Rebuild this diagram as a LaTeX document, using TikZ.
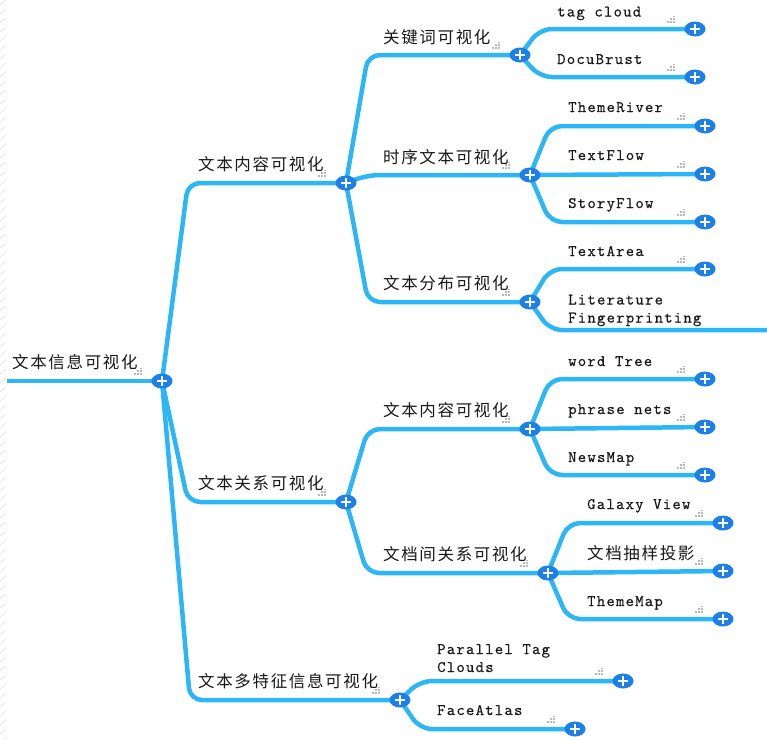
\documentclass[tikz,border=0pt]{standalone}
\usepackage{fontspec}
\newfontfamily\cjk{Noto Sans CJK SC}[LetterSpace=10]
\newfontfamily\mono{lmmono10-regular.otf}[LetterSpace=7.5,FakeBold=0.4]
\usetikzlibrary{shapes.geometric,backgrounds,calc}
\definecolor{linkblue}{RGB}{45,182,245}
\definecolor{plusblue}{RGB}{28,128,232}
\definecolor{gripgray}{RGB}{185,185,185}
\definecolor{hatchgray}{RGB}{225,225,225}
\tikzset{
  link/.style={draw=linkblue, line width=4.5pt, rounded corners=12pt, line join=round},
  plusnode/.style={ellipse, fill=plusblue, minimum width=21pt, minimum height=15pt, inner sep=0pt,
    path picture={
      \fill[white] ($(path picture bounding box.center)+(-5.2,-1.4)$) rectangle ($(path picture bounding box.center)+(5.2,1.4)$);
      \fill[white] ($(path picture bounding box.center)+(-1.4,-4.6)$) rectangle ($(path picture bounding box.center)+(1.4,4.6)$);
    }},
  cjklabel/.style={anchor=west, inner sep=0pt, font=\cjk\fontsize{16.5}{18}\selectfont, text=black!90},
  monolabel/.style={anchor=base west, inner sep=0pt, font=\mono\fontsize{16}{18}\selectfont, text=black!90, align=left},
  grip/.pic={
    \foreach \gx/\gy in {-1.6/0,-4.6/0,-7.6/0,-1.6/-2.6,-4.6/-2.6,-1.6/-5.2}
      \fill[gripgray] (\gx,\gy) rectangle ++(1.6,-1.6);
  }
}
\begin{document}
\begin{tikzpicture}[x=1pt,y=-1pt]
\useasboundingbox (0,0) rectangle (767,739);
% faint hatching at the left edge
\foreach \hy in {0,9,...,739} \draw[hatchgray, line width=0.7pt] (0,\hy+5) -- (6,\hy);

% plus nodes
\node[plusnode] (p0) at (162,381) {};
\node[plusnode] (a1) at (346,183) {};
\node[plusnode] (a2) at (346,502) {};
\node[plusnode] (a3) at (400,700) {};
\node[plusnode] (b1) at (520,55) {};
\node[plusnode] (b2) at (530,175) {};
\node[plusnode] (b3) at (530,302) {};
\node[plusnode] (b4) at (530,429) {};
\node[plusnode] (b5) at (548,573) {};
\node[plusnode] (c1) at (695,29) {};
\node[plusnode] (c2) at (695,77) {};
\node[plusnode] (c3) at (705,126) {};
\node[plusnode] (c4) at (705,174) {};
\node[plusnode] (c5) at (705,222) {};
\node[plusnode] (c6) at (705,269) {};
\coordinate (c7) at (767,330);
\node[plusnode] (c8) at (705,379) {};
\node[plusnode] (c9) at (705,427) {};
\node[plusnode] (c10) at (705,475) {};
\node[plusnode] (c11) at (723,523) {};
\node[plusnode] (c12) at (723,571) {};
\node[plusnode] (c13) at (723,619) {};
\node[plusnode] (c14) at (623,681) {};
\node[plusnode] (c15) at (575,729) {};
\coordinate (s0) at (7,381);

% connectors
\begin{scope}[on background layer]
\draw[link] (s0) -- (p0.center);
\draw[link] (p0.center) -- ($(p0.center |- a1.center)+(26,0)$) -- (a1.center);
\draw[link] (p0.center) -- ($(p0.center |- a2.center)+(26,0)$) -- (a2.center);
\draw[link] (p0.center) -- ($(p0.center |- a3.center)+(28,0)$) -- (a3.center);
\draw[link] (a1.center) -- ($(a1.center |- b1.center)+(22,0)$) -- (b1.center);
\draw[link] (a1.center) -- ($(a1.center |- b2.center)+(22,0)$) -- (b2.center);
\draw[link] (a1.center) -- ($(a1.center |- b3.center)+(22,0)$) -- (b3.center);
\draw[link] (a2.center) -- ($(a2.center |- b4.center)+(22,0)$) -- (b4.center);
\draw[link] (a2.center) -- ($(a2.center |- b5.center)+(21,0)$) -- (b5.center);
\draw[link] (b1.center) -- ($(b1.center |- c1.center)+(20,0)$) -- (c1.center);
\draw[link] (b1.center) -- ($(b1.center |- c2.center)+(20,0)$) -- (c2.center);
\draw[link] (b2.center) -- ($(b2.center |- c3.center)+(20,0)$) -- (c3.center);
\draw[link] (b2.center) -- (c4.center);
\draw[link] (b2.center) -- ($(b2.center |- c5.center)+(20,0)$) -- (c5.center);
\draw[link] (b3.center) -- ($(b3.center |- c6.center)+(20,0)$) -- (c6.center);
\draw[link] (b3.center) -- ($(b3.center |- c7)+(20,0)$) -- (c7);
\draw[link] (b4.center) -- ($(b4.center |- c8.center)+(20,0)$) -- (c8.center);
\draw[link] (b4.center) -- (c9.center);
\draw[link] (b4.center) -- ($(b4.center |- c10.center)+(20,0)$) -- (c10.center);
\draw[link] (b5.center) -- ($(b5.center |- c11.center)+(20,0)$) -- (c11.center);
\draw[link] (b5.center) -- (c12.center);
\draw[link] (b5.center) -- ($(b5.center |- c13.center)+(20,0)$) -- (c13.center);
\draw[link] (a3.center) -- ($(a3.center |- c14.center)+(20,0)$) -- (c14.center);
\draw[link] (a3.center) -- ($(a3.center |- c15.center)+(20,0)$) -- (c15.center);
\end{scope}

% labels
\node[cjklabel] (t0) at (12,362) {文本信息可视化};
\node[cjklabel] (ta1) at (198,164) {文本内容可视化};
\node[cjklabel] (ta2) at (198,483) {文本关系可视化};
\node[cjklabel] (ta3) at (198,681) {文本多特征信息可视化};
\node[cjklabel] (tb1) at (383,37) {关键词可视化};
\node[cjklabel] (tb2) at (383,157) {时序文本可视化};
\node[cjklabel] (tb3) at (383,283) {文本分布可视化};
\node[cjklabel] (tb4) at (383,410) {文本内容可视化};
\node[cjklabel] (tb5) at (383,554) {文档间关系可视化};
\node[monolabel] (tc1) at (557,16.5) {tag cloud};
\node[monolabel] (tc2) at (557,64) {DocuBrust};
\node[monolabel] (tc3) at (568,112) {ThemeRiver};
\node[monolabel] (tc4) at (568,160) {TextFlow};
\node[monolabel] (tc5) at (568,208) {StoryFlow};
\node[monolabel] (tc6) at (568,256) {TextArea};
\node[monolabel] (tc7) at (568,322.5) {Literature\\Fingerprinting};
\node[monolabel] (tc8) at (568,366) {word Tree};
\node[monolabel] (tc9) at (568,414) {phrase nets};
\node[monolabel] (tc10) at (568,462) {NewsMap};
\node[monolabel] (tc11) at (587,509) {Galaxy View};
\node[cjklabel] (tc12) at (587,553) {文档抽样投影};
\node[monolabel] (tc13) at (587,606) {ThemeMap};
\node[monolabel] (tc14) at (437,672) {Parallel Tag\\Clouds};
\node[monolabel] (tc15) at (437,715) {FaceAtlas};

% resize grips
\foreach \n in {p0,a1,a2,a3,b1,b2,b3,b4,b5,c1,c2,c3,c4,c5,c6,c8,c9,c10,c11,c12,c13,c14,c15}
  \pic at ($(\n.center)+(-20,-6.5)$) {grip};
\end{tikzpicture}
\end{document}
